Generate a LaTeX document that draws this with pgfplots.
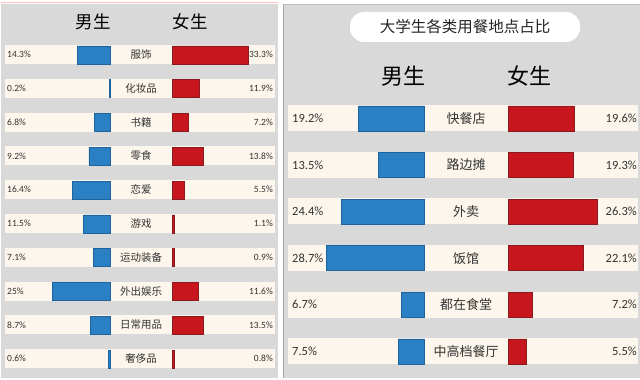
\documentclass[border=0pt]{standalone}
\usepackage{pgfplots}
\pgfplotsset{compat=1.18}
\usepackage{fontspec}
\setmainfont{Noto Sans CJK SC}
\newfontfamily\num{Carlito}
\definecolor{bgc}{HTML}{D9D9D9}
\definecolor{cream}{HTML}{FCF6EC}
\definecolor{mblue}{HTML}{2A80C2}
\definecolor{mblueD}{HTML}{1D649E}
\definecolor{fred}{HTML}{C8161F}
\definecolor{fredD}{HTML}{8A1A1E}
\definecolor{txt}{HTML}{333333}
\pgfplotsset{barax/.style={scale only axis, hide axis, xbar, enlargelimits=false, clip=false, y dir=reverse, xmin=0}}
\begin{document}
\begin{tikzpicture}
\useasboundingbox (0,0) rectangle (640pt,380pt);
\fill[white] (0,0) rectangle (640pt,380pt);
% left panel background
\fill[bgc] (1pt,2pt) rectangle (278pt,376pt);
\draw[red!25, line width=1pt] (1pt,377.5pt) -- (278pt,377.5pt);
% right panel background
\fill[bgc] (283pt,2pt) rectangle (640pt,376pt);
\draw[gray!70, line width=1pt] (283.5pt,2pt) -- (283.5pt,376pt);
\draw[gray!50, line width=0.8pt] (283pt,376pt) -- (640pt,376pt);

% left headings
\node[black, font=\fontsize{17.5}{17.5}\selectfont] at (93pt,358pt) {男生};
\node[black, font=\fontsize{17.5}{17.5}\selectfont] at (190pt,358pt) {女生};

% left rows: bands and labels
\foreach \c/\m/\f [count=\i] in {服饰/14.3/33.3,化妆品/0.2/11.9,书籍/6.8/7.2,零食/9.2/13.8,恋爱/16.4/5.5,游戏/11.5/1.1,运动装备/7.1/0.9,外出娱乐/25/11.6,日常用品/8.7/13.5,奢侈品/0.6/0.8}{
  \pgfmathsetmacro\yy{380-54.5-33.8*(\i-1)}
  \pgfmathsetmacro\ya{\yy-9.5}
  \pgfmathsetmacro\yb{\yy+9.5}
  \fill[cream] (5pt,\ya pt) rectangle (275pt,\yb pt);
  \node[txt, font=\fontsize{10.5}{10.5}\selectfont] at (141pt,\yy pt) {\c};
  \node[txt, anchor=west, inner sep=0pt, font=\num\fontsize{9.5}{9.5}\selectfont] at (7pt,\yy pt) {\m\%};
  \node[txt, anchor=east, inner sep=0pt, font=\num\fontsize{9.5}{9.5}\selectfont] at (273pt,\yy pt) {\f\%};
}

% right title
\fill[white, rounded corners=14pt] (350pt,338pt) rectangle (580pt,368pt);
\node[black!85, font=\fontsize{15.5}{15.5}\selectfont] at (465pt,353pt) {大学生各类用餐地点占比};
\node[black, font=\fontsize{22}{22}\selectfont] at (403pt,304pt) {男生};
\node[black, font=\fontsize{22}{22}\selectfont] at (529pt,304pt) {女生};

\foreach \c/\m/\f [count=\i] in {快餐店/19.2/19.6,路边摊/13.5/19.3,外卖/24.4/26.3,饭馆/28.7/22.1,都在食堂/6.7/7.2,中高档餐厅/7.5/5.5}{
  \pgfmathsetmacro\yy{380-118.3-46.6*(\i-1)}
  \pgfmathsetmacro\ya{\yy-13}
  \pgfmathsetmacro\yb{\yy+13}
  \fill[cream] (288pt,\ya pt) rectangle (638pt,\yb pt);
  \node[txt, font=\fontsize{13}{13}\selectfont] at (466pt,\yy pt) {\c};
  \node[txt, anchor=west, inner sep=0pt, font=\num\fontsize{12.5}{12.5}\selectfont] at (292pt,\yy pt) {\m\%};
  \node[txt, anchor=east, inner sep=0pt, font=\num\fontsize{12.5}{12.5}\selectfont] at (637pt,\yy pt) {\f\%};
}

% left male bars
\begin{axis}[barax, x dir=reverse, xmax=35, width=80.15pt, height=338pt,
  ymin=0.5, ymax=10.5, bar width=18pt, at={(110pt,4.1pt)}, anchor=south east]
\addplot[fill=mblue, draw=mblueD, line width=0.6pt] coordinates {
(14.3,1) (0.2,2) (6.8,3) (9.2,4) (16.4,5) (11.5,6) (7.1,7) (25,8) (8.7,9) (0.6,10)};
\end{axis}
% left female bars
\begin{axis}[barax, xmax=35, width=80.15pt, height=338pt,
  ymin=0.5, ymax=10.5, bar width=18pt, at={(172pt,4.1pt)}, anchor=south west]
\addplot[fill=fred, draw=fredD, line width=0.6pt] coordinates {
(33.3,1) (11.9,2) (7.2,3) (13.8,4) (5.5,5) (1.1,6) (0.9,7) (11.6,8) (13.5,9) (0.8,10)};
\end{axis}
% right male bars
\begin{axis}[barax, x dir=reverse, xmax=30, width=102pt, height=279.6pt,
  ymin=0.5, ymax=6.5, bar width=25pt, at={(424pt,5.4pt)}, anchor=south east]
\addplot[fill=mblue, draw=mblueD, line width=0.6pt] coordinates {
(19.2,1) (13.5,2) (24.4,3) (28.7,4) (6.7,5) (7.5,6)};
\end{axis}
% right female bars
\begin{axis}[barax, xmax=30, width=102pt, height=279.6pt,
  ymin=0.5, ymax=6.5, bar width=25pt, at={(508pt,5.4pt)}, anchor=south west]
\addplot[fill=fred, draw=fredD, line width=0.6pt] coordinates {
(19.6,1) (19.3,2) (26.3,3) (22.1,4) (7.2,5) (5.5,6)};
\end{axis}
\end{tikzpicture}
\end{document}
